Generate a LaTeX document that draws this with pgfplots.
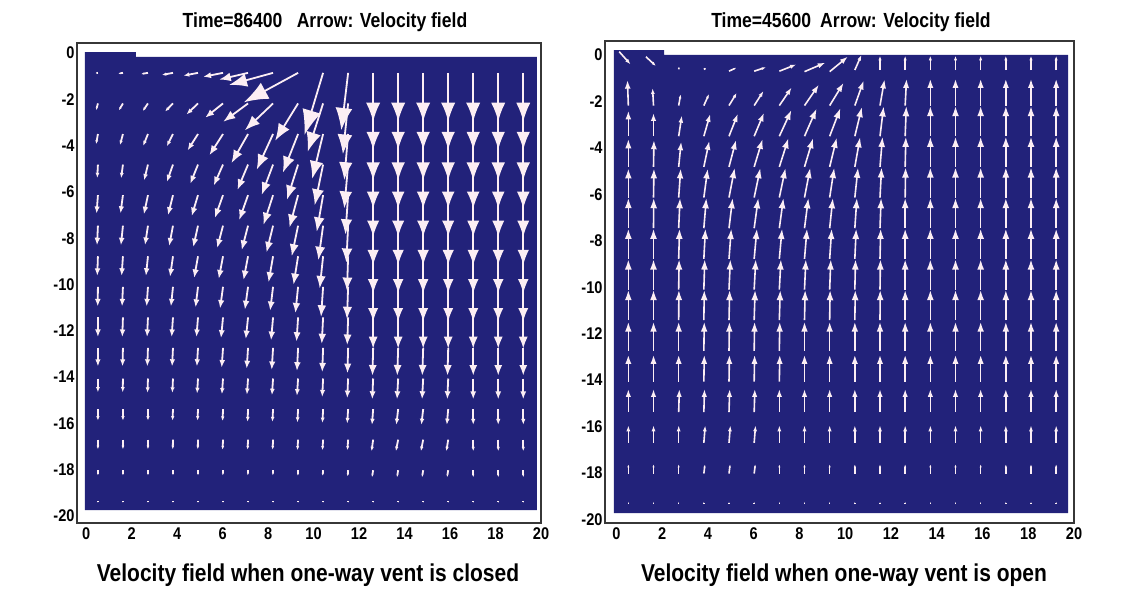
\documentclass[border=0pt]{standalone}
\usepackage{fontspec}
\setmainfont{Liberation Sans}[FakeStretch=0.86]
\usepackage{pgfplots}
\pgfplotsset{compat=1.18}
\usepackage{pgfplotstable}
\usetikzlibrary{arrows.meta}
\definecolor{navy}{RGB}{34,34,122}
\definecolor{arr}{RGB}{252,238,244}
\definecolor{frm}{RGB}{55,55,55}

% Left panel (vent closed): x y u v
\pgfplotstableread[row sep=\\]{
x y u v\\
0.52 -0.86 -0.10 -0.01\\ 1.62 -0.86 -0.20 -0.03\\ 2.72 -0.86 -0.30 -0.05\\ 3.82 -0.86 -0.49 -0.09\\ 4.92 -0.86 -0.64 -0.12\\ 6.02 -0.86 -0.88 -0.17\\ 7.12 -0.86 -1.27 -0.29\\ 8.22 -0.86 -1.93 -0.52\\ 9.32 -0.86 -2.38 -1.27\\ 10.42 -0.86 -0.82 -2.68\\ 11.52 -0.86 -0.30 -2.48\\ 12.62 -0.86 0 -2.10\\ 13.72 -0.86 0 -2.10\\ 14.82 -0.86 0 -2.10\\ 15.92 -0.86 0 -2.10\\ 17.02 -0.86 0 -2.10\\ 18.12 -0.86 0 -2.10\\ 19.22 -0.86 0 -2.10\\
0.52 -2.18 -0.08 -0.29\\ 1.62 -2.18 -0.18 -0.30\\ 2.72 -2.18 -0.23 -0.33\\ 3.82 -2.18 -0.35 -0.35\\ 4.92 -2.18 -0.51 -0.48\\ 6.02 -2.18 -0.79 -0.62\\ 7.12 -2.18 -1.09 -0.79\\ 8.22 -2.18 -1.24 -1.16\\ 9.32 -2.18 -1.01 -1.61\\ 10.42 -2.18 -0.68 -2.09\\ 11.52 -2.18 -0.23 -2.19\\ 12.62 -2.18 0 -2.00\\ 13.72 -2.18 0 -2.00\\ 14.82 -2.18 0 -2.00\\ 15.92 -2.18 0 -2.00\\ 17.02 -2.18 0 -2.00\\ 18.12 -2.18 0 -2.00\\ 19.22 -2.18 0 -2.00\\
0.52 -3.50 -0.08 -0.44\\ 1.62 -3.50 -0.13 -0.48\\ 2.72 -3.50 -0.21 -0.51\\ 3.82 -3.50 -0.27 -0.53\\ 4.92 -3.50 -0.46 -0.71\\ 6.02 -3.50 -0.60 -0.92\\ 7.12 -3.50 -0.73 -1.26\\ 8.22 -3.50 -0.72 -1.54\\ 9.32 -3.50 -0.67 -1.67\\ 10.42 -3.50 -0.48 -1.94\\ 11.52 -3.50 -0.17 -1.99\\ 12.62 -3.50 0 -2.00\\ 13.72 -3.50 0 -2.00\\ 14.82 -3.50 0 -2.00\\ 15.92 -3.50 0 -2.00\\ 17.02 -3.50 0 -2.00\\ 18.12 -3.50 0 -2.00\\ 19.22 -3.50 0 -2.00\\
0.52 -4.82 -0.03 -0.58\\ 1.62 -4.82 -0.08 -0.59\\ 2.72 -4.82 -0.17 -0.68\\ 3.82 -4.82 -0.27 -0.75\\ 4.92 -4.82 -0.34 -0.83\\ 6.02 -4.82 -0.41 -0.91\\ 7.12 -4.82 -0.47 -1.10\\ 8.22 -4.82 -0.50 -1.31\\ 9.32 -4.82 -0.49 -1.52\\ 10.42 -4.82 -0.37 -1.76\\ 11.52 -4.82 -0.17 -1.89\\ 12.62 -4.82 0 -1.90\\ 13.72 -4.82 0 -1.90\\ 14.82 -4.82 0 -1.90\\ 15.92 -4.82 0 -1.90\\ 17.02 -4.82 0 -1.90\\ 18.12 -4.82 0 -1.90\\ 19.22 -4.82 0 -1.90\\
0.52 -6.14 -0.06 -0.80\\ 1.62 -6.14 -0.11 -0.79\\ 2.72 -6.14 -0.18 -0.83\\ 3.82 -6.14 -0.22 -0.87\\ 4.92 -6.14 -0.28 -0.91\\ 6.02 -6.14 -0.36 -0.99\\ 7.12 -6.14 -0.39 -1.08\\ 8.22 -6.14 -0.42 -1.28\\ 9.32 -6.14 -0.38 -1.40\\ 10.42 -6.14 -0.28 -1.58\\ 11.52 -6.14 -0.12 -1.70\\ 12.62 -6.14 0 -1.80\\ 13.72 -6.14 0 -1.80\\ 14.82 -6.14 0 -1.80\\ 15.92 -6.14 0 -1.80\\ 17.02 -6.14 0 -1.80\\ 18.12 -6.14 0 -1.80\\ 19.22 -6.14 0 -1.80\\
0.52 -7.46 -0.04 -0.85\\ 1.62 -7.46 -0.09 -0.85\\ 2.72 -7.46 -0.13 -0.84\\ 3.82 -7.46 -0.17 -0.88\\ 4.92 -7.46 -0.21 -0.93\\ 6.02 -7.46 -0.26 -0.97\\ 7.12 -7.46 -0.28 -1.06\\ 8.22 -7.46 -0.29 -1.16\\ 9.32 -7.46 -0.28 -1.32\\ 10.42 -7.46 -0.21 -1.49\\ 11.52 -7.46 -0.08 -1.60\\ 12.62 -7.46 0 -1.70\\ 13.72 -7.46 0 -1.70\\ 14.82 -7.46 0 -1.70\\ 15.92 -7.46 0 -1.70\\ 17.02 -7.46 0 -1.70\\ 18.12 -7.46 0 -1.70\\ 19.22 -7.46 0 -1.70\\
0.52 -8.78 -0.03 -0.85\\ 1.62 -8.78 -0.06 -0.85\\ 2.72 -8.78 -0.09 -0.85\\ 3.82 -8.78 -0.13 -0.89\\ 4.92 -8.78 -0.17 -0.94\\ 6.02 -8.78 -0.19 -0.98\\ 7.12 -8.78 -0.20 -1.03\\ 8.22 -8.78 -0.20 -1.13\\ 9.32 -8.78 -0.20 -1.23\\ 10.42 -8.78 -0.15 -1.39\\ 11.52 -8.78 -0.05 -1.50\\ 12.62 -8.78 0 -1.60\\ 13.72 -8.78 0 -1.60\\ 14.82 -8.78 0 -1.60\\ 15.92 -8.78 0 -1.60\\ 17.02 -8.78 0 -1.60\\ 18.12 -8.78 0 -1.60\\ 19.22 -8.78 0 -1.60\\
0.52 -10.10 -0.01 -0.85\\ 1.62 -10.10 -0.04 -0.85\\ 2.72 -10.10 -0.06 -0.85\\ 3.82 -10.10 -0.09 -0.85\\ 4.92 -10.10 -0.11 -0.89\\ 6.02 -10.10 -0.13 -0.94\\ 7.12 -10.10 -0.14 -0.99\\ 8.22 -10.10 -0.13 -1.04\\ 9.32 -10.10 -0.12 -1.14\\ 10.42 -10.10 -0.09 -1.30\\ 11.52 -10.10 -0.05 -1.40\\ 12.62 -10.10 0 -1.50\\ 13.72 -10.10 0 -1.50\\ 14.82 -10.10 0 -1.50\\ 15.92 -10.10 0 -1.50\\ 17.02 -10.10 0 -1.50\\ 18.12 -10.10 0 -1.50\\ 19.22 -10.10 0 -1.50\\
0.52 -11.42 0 -0.85\\ 1.62 -11.42 -0.03 -0.85\\ 2.72 -11.42 -0.04 -0.85\\ 3.82 -11.42 -0.06 -0.85\\ 4.92 -11.42 -0.07 -0.85\\ 6.02 -11.42 -0.09 -0.90\\ 7.12 -11.42 -0.10 -0.94\\ 8.22 -11.42 -0.09 -1.00\\ 9.32 -11.42 -0.07 -1.05\\ 10.42 -11.42 -0.06 -1.15\\ 11.52 -11.42 -0.04 -1.20\\ 12.62 -11.42 0 -1.35\\ 13.72 -11.42 0 -1.35\\ 14.82 -11.42 0 -1.35\\ 15.92 -11.42 0 -1.35\\ 17.02 -11.42 0 -1.35\\ 18.12 -11.42 0 -1.35\\ 19.22 -11.42 0 -1.35\\
0.52 -12.74 0 -0.80\\ 1.62 -12.74 -0.02 -0.80\\ 2.72 -12.74 -0.03 -0.80\\ 3.82 -12.74 -0.04 -0.80\\ 4.92 -12.74 -0.05 -0.80\\ 6.02 -12.74 -0.06 -0.85\\ 7.12 -12.74 -0.06 -0.90\\ 8.22 -12.74 -0.06 -0.95\\ 9.32 -12.74 -0.05 -1.00\\ 10.42 -12.74 -0.04 -1.05\\ 11.52 -12.74 -0.03 -1.10\\ 12.62 -12.74 -0.03 -1.20\\ 13.72 -12.74 -0.04 -1.20\\ 14.82 -12.74 -0.04 -1.20\\ 15.92 -12.74 -0.03 -1.20\\ 17.02 -12.74 0 -1.20\\ 18.12 -12.74 0 -1.20\\ 19.22 -12.74 0 -1.20\\
0.52 -14.06 0 -0.60\\ 1.62 -14.06 -0.01 -0.60\\ 2.72 -14.06 -0.02 -0.62\\ 3.82 -14.06 -0.03 -0.62\\ 4.92 -14.06 -0.04 -0.65\\ 6.02 -14.06 -0.05 -0.68\\ 7.12 -14.06 -0.05 -0.70\\ 8.22 -14.06 -0.05 -0.72\\ 9.32 -14.06 -0.05 -0.75\\ 10.42 -14.06 -0.04 -0.80\\ 11.52 -14.06 -0.04 -0.85\\ 12.62 -14.06 -0.04 -0.90\\ 13.72 -14.06 -0.05 -0.90\\ 14.82 -14.06 -0.05 -0.90\\ 15.92 -14.06 -0.04 -0.90\\ 17.02 -14.06 0 -0.90\\ 18.12 -14.06 0 -0.90\\ 19.22 -14.06 0 -0.90\\
0.52 -15.38 0 -0.50\\ 1.62 -15.38 0 -0.50\\ 2.72 -15.38 0 -0.50\\ 3.82 -15.38 -0.02 -0.50\\ 4.92 -15.38 -0.02 -0.50\\ 6.02 -15.38 -0.02 -0.52\\ 7.12 -15.38 -0.02 -0.55\\ 8.22 -15.38 -0.03 -0.55\\ 9.32 -15.38 -0.03 -0.58\\ 10.42 -15.38 -0.03 -0.60\\ 11.52 -15.38 -0.04 -0.62\\ 12.62 -15.38 -0.05 -0.68\\ 13.72 -15.38 -0.08 -0.68\\ 14.82 -15.38 -0.08 -0.68\\ 15.92 -15.38 -0.06 -0.68\\ 17.02 -15.38 0 -0.68\\ 18.12 -15.38 0 -0.68\\ 19.22 -15.38 0 -0.68\\
0.52 -16.70 0 -0.42\\ 1.62 -16.70 0 -0.42\\ 2.72 -16.70 0 -0.42\\ 3.82 -16.70 -0.01 -0.42\\ 4.92 -16.70 -0.01 -0.42\\ 6.02 -16.70 -0.02 -0.44\\ 7.12 -16.70 -0.02 -0.44\\ 8.22 -16.70 -0.02 -0.44\\ 9.32 -16.70 -0.03 -0.46\\ 10.42 -16.70 -0.03 -0.46\\ 11.52 -16.70 -0.03 -0.46\\ 12.62 -16.70 -0.07 -0.50\\ 13.72 -16.70 -0.10 -0.50\\ 14.82 -16.70 -0.10 -0.50\\ 15.92 -16.70 -0.08 -0.50\\ 17.02 -16.70 0 -0.50\\ 18.12 -16.70 0 -0.50\\ 19.22 -16.70 0 -0.50\\
0.52 -18.02 0 -0.22\\ 1.62 -18.02 0 -0.22\\ 2.72 -18.02 0 -0.22\\ 3.82 -18.02 0 -0.22\\ 4.92 -18.02 0 -0.22\\ 6.02 -18.02 -0.01 -0.22\\ 7.12 -18.02 -0.01 -0.22\\ 8.22 -18.02 -0.01 -0.22\\ 9.32 -18.02 -0.01 -0.24\\ 10.42 -18.02 -0.02 -0.24\\ 11.52 -18.02 -0.02 -0.26\\ 12.62 -18.02 -0.05 -0.30\\ 13.72 -18.02 -0.05 -0.30\\ 14.82 -18.02 -0.05 -0.30\\ 15.92 -18.02 -0.05 -0.30\\ 17.02 -18.02 0 -0.30\\ 18.12 -18.02 0 -0.30\\ 19.22 -18.02 0 -0.30\\
0.52 -19.34 0 -0.08\\ 1.62 -19.34 0 -0.08\\ 2.72 -19.34 0 -0.08\\ 3.82 -19.34 0 -0.08\\ 4.92 -19.34 0 -0.08\\ 6.02 -19.34 0 -0.08\\ 7.12 -19.34 0 -0.08\\ 8.22 -19.34 0 -0.08\\ 9.32 -19.34 0 -0.08\\ 10.42 -19.34 0 -0.08\\ 11.52 -19.34 0 -0.08\\ 12.62 -19.34 0 -0.08\\ 13.72 -19.34 0 -0.08\\ 14.82 -19.34 0 -0.08\\ 15.92 -19.34 0 -0.08\\ 17.02 -19.34 0 -0.08\\ 18.12 -19.34 0 -0.08\\ 19.22 -19.34 0 -0.08\\
}\Ldata

% Right panel (vent open): x y u v
\pgfplotstableread[row sep=\\]{
x y u v\\
0.12 0.14 0.50 -0.55\\ 1.29 -0.08 0.44 -0.40\\ 2.72 -0.62 0.02 0.10\\ 3.82 -0.62 0.10 0.05\\ 4.92 -0.70 0.32 0.15\\ 6.02 -0.70 0.52 0.17\\ 7.12 -0.70 0.74 0.29\\ 8.22 -0.72 0.92 0.39\\ 9.32 -0.72 0.80 0.65\\ 10.42 -0.65 0.29 0.65\\ 11.52 -0.65 0 0.62\\ 12.62 -0.65 0 0.62\\ 13.72 -0.65 0 0.62\\ 14.82 -0.65 0 0.62\\ 15.92 -0.65 0 0.62\\ 17.02 -0.65 0 0.62\\ 18.12 -0.65 0 0.62\\ 19.22 -0.65 0 0.62\\
0.52 -2.18 -0.04 1.10\\ 1.62 -2.18 -0.04 0.75\\ 2.72 -2.18 0.09 0.49\\ 3.82 -2.18 0.23 0.50\\ 4.92 -2.18 0.34 0.55\\ 6.02 -2.18 0.41 0.63\\ 7.12 -2.18 0.54 0.78\\ 8.22 -2.18 0.63 0.90\\ 9.32 -2.18 0.61 0.98\\ 10.42 -2.18 0.39 1.08\\ 11.52 -2.18 0.20 1.13\\ 12.62 -2.18 0.06 1.15\\ 13.72 -2.18 0 1.15\\ 14.82 -2.18 0 1.15\\ 15.92 -2.18 0 1.15\\ 17.02 -2.18 0 1.15\\ 18.12 -2.18 0 1.15\\ 19.22 -2.18 0 1.15\\
0.52 -3.50 0 1.10\\ 1.62 -3.50 0 1.00\\ 2.72 -3.50 0.14 0.89\\ 3.82 -3.50 0.28 0.96\\ 4.92 -3.50 0.39 0.97\\ 6.02 -3.50 0.43 1.01\\ 7.12 -3.50 0.53 1.13\\ 8.22 -3.50 0.53 1.19\\ 9.32 -3.50 0.47 1.21\\ 10.42 -3.50 0.31 1.26\\ 11.52 -3.50 0.16 1.29\\ 12.62 -3.50 0.05 1.30\\ 13.72 -3.50 0 1.30\\ 14.82 -3.50 0 1.30\\ 15.92 -3.50 0 1.30\\ 17.02 -3.50 0 1.30\\ 18.12 -3.50 0 1.30\\ 19.22 -3.50 0 1.30\\
0.52 -4.82 0 1.20\\ 1.62 -4.82 0.02 1.15\\ 2.72 -4.82 0.11 1.09\\ 3.82 -4.82 0.24 1.12\\ 4.92 -4.82 0.31 1.16\\ 6.02 -4.82 0.37 1.20\\ 7.12 -4.82 0.40 1.24\\ 8.22 -4.82 0.38 1.24\\ 9.32 -4.82 0.31 1.26\\ 10.42 -4.82 0.23 1.28\\ 11.52 -4.82 0.11 1.30\\ 12.62 -4.82 0.03 1.30\\ 13.72 -4.82 0 1.30\\ 14.82 -4.82 0 1.30\\ 15.92 -4.82 0 1.30\\ 17.02 -4.82 0 1.30\\ 18.12 -4.82 0 1.30\\ 19.22 -4.82 0 1.30\\
0.52 -6.14 0 1.25\\ 1.62 -6.14 0.02 1.25\\ 2.72 -6.14 0.09 1.25\\ 3.82 -6.14 0.17 1.24\\ 4.92 -6.14 0.25 1.28\\ 6.02 -6.14 0.27 1.27\\ 7.12 -6.14 0.27 1.27\\ 8.22 -6.14 0.25 1.28\\ 9.32 -6.14 0.20 1.28\\ 10.42 -6.14 0.14 1.29\\ 11.52 -6.14 0.07 1.30\\ 12.62 -6.14 0.02 1.30\\ 13.72 -6.14 0 1.30\\ 14.82 -6.14 0 1.30\\ 15.92 -6.14 0 1.30\\ 17.02 -6.14 0 1.30\\ 18.12 -6.14 0 1.30\\ 19.22 -6.14 0 1.30\\
0.52 -7.46 0 1.30\\ 1.62 -7.46 0.01 1.30\\ 2.72 -7.46 0.06 1.30\\ 3.82 -7.46 0.11 1.30\\ 4.92 -7.46 0.16 1.30\\ 6.02 -7.46 0.18 1.30\\ 7.12 -7.46 0.18 1.30\\ 8.22 -7.46 0.17 1.30\\ 9.32 -7.46 0.14 1.30\\ 10.42 -7.46 0.09 1.30\\ 11.52 -7.46 0.05 1.30\\ 12.62 -7.46 0 1.30\\ 13.72 -7.46 0 1.30\\ 14.82 -7.46 0 1.30\\ 15.92 -7.46 0 1.30\\ 17.02 -7.46 0 1.30\\ 18.12 -7.46 0 1.30\\ 19.22 -7.46 0 1.30\\
0.52 -8.78 0 1.30\\ 1.62 -8.78 0 1.30\\ 2.72 -8.78 0.04 1.30\\ 3.82 -8.78 0.07 1.30\\ 4.92 -8.78 0.10 1.30\\ 6.02 -8.78 0.12 1.30\\ 7.12 -8.78 0.12 1.30\\ 8.22 -8.78 0.11 1.30\\ 9.32 -8.78 0.09 1.30\\ 10.42 -8.78 0.06 1.30\\ 11.52 -8.78 0.03 1.30\\ 12.62 -8.78 0 1.30\\ 13.72 -8.78 0 1.30\\ 14.82 -8.78 0 1.30\\ 15.92 -8.78 0 1.30\\ 17.02 -8.78 0 1.30\\ 18.12 -8.78 0 1.30\\ 19.22 -8.78 0 1.30\\
0.52 -10.10 0 1.30\\ 1.62 -10.10 0 1.30\\ 2.72 -10.10 0.02 1.30\\ 3.82 -10.10 0.04 1.30\\ 4.92 -10.10 0.06 1.30\\ 6.02 -10.10 0.07 1.30\\ 7.12 -10.10 0.07 1.30\\ 8.22 -10.10 0.06 1.30\\ 9.32 -10.10 0.05 1.30\\ 10.42 -10.10 0.03 1.30\\ 11.52 -10.10 0.02 1.30\\ 12.62 -10.10 0 1.30\\ 13.72 -10.10 0 1.30\\ 14.82 -10.10 0 1.30\\ 15.92 -10.10 0 1.30\\ 17.02 -10.10 0 1.30\\ 18.12 -10.10 0 1.30\\ 19.22 -10.10 0 1.30\\
0.52 -11.42 0 1.30\\ 1.62 -11.42 0 1.30\\ 2.72 -11.42 0.01 1.30\\ 3.82 -11.42 0.02 1.30\\ 4.92 -11.42 0.03 1.30\\ 6.02 -11.42 0.04 1.30\\ 7.12 -11.42 0.04 1.30\\ 8.22 -11.42 0.03 1.30\\ 9.32 -11.42 0.02 1.30\\ 10.42 -11.42 0.02 1.30\\ 11.52 -11.42 0.01 1.30\\ 12.62 -11.42 0 1.30\\ 13.72 -11.42 0 1.30\\ 14.82 -11.42 0 1.30\\ 15.92 -11.42 0 1.30\\ 17.02 -11.42 0 1.30\\ 18.12 -11.42 0 1.30\\ 19.22 -11.42 0 1.30\\
0.52 -12.74 0 1.25\\ 1.62 -12.74 0 1.25\\ 2.72 -12.74 0 1.25\\ 3.82 -12.74 0.02 1.25\\ 4.92 -12.74 0.02 1.25\\ 6.02 -12.74 0.02 1.25\\ 7.12 -12.74 0.02 1.25\\ 8.22 -12.74 0 1.25\\ 9.32 -12.74 0 1.25\\ 10.42 -12.74 0 1.25\\ 11.52 -12.74 0 1.25\\ 12.62 -12.74 0 1.25\\ 13.72 -12.74 0 1.25\\ 14.82 -12.74 0 1.25\\ 15.92 -12.74 0 1.25\\ 17.02 -12.74 0 1.25\\ 18.12 -12.74 0 1.25\\ 19.22 -12.74 0 1.25\\
0.52 -14.06 0 1.15\\ 1.62 -14.06 0 1.15\\ 2.72 -14.06 0 1.15\\ 3.82 -14.06 0.02 1.15\\ 4.92 -14.06 0.02 1.15\\ 6.02 -14.06 0.02 1.15\\ 7.12 -14.06 0.02 1.15\\ 8.22 -14.06 0 1.15\\ 9.32 -14.06 0 1.15\\ 10.42 -14.06 0 1.15\\ 11.52 -14.06 0 1.15\\ 12.62 -14.06 0 1.15\\ 13.72 -14.06 0 1.15\\ 14.82 -14.06 0 1.15\\ 15.92 -14.06 0 1.15\\ 17.02 -14.06 0 1.15\\ 18.12 -14.06 0 1.15\\ 19.22 -14.06 0 1.15\\
0.52 -15.38 0 1.00\\ 1.62 -15.38 0 1.00\\ 2.72 -15.38 0.03 1.00\\ 3.82 -15.38 0.03 1.00\\ 4.92 -15.38 0.03 1.00\\ 6.02 -15.38 0.03 1.00\\ 7.12 -15.38 0 1.00\\ 8.22 -15.38 0 1.00\\ 9.32 -15.38 0 1.00\\ 10.42 -15.38 0 1.00\\ 11.52 -15.38 0 1.00\\ 12.62 -15.38 0 1.00\\ 13.72 -15.38 0 1.00\\ 14.82 -15.38 0 1.00\\ 15.92 -15.38 0 1.00\\ 17.02 -15.38 0 1.00\\ 18.12 -15.38 0 1.00\\ 19.22 -15.38 0 1.00\\
0.52 -16.70 0 0.75\\ 1.62 -16.70 0 0.75\\ 2.72 -16.70 0 0.75\\ 3.82 -16.70 0.06 0.75\\ 4.92 -16.70 0.06 0.75\\ 6.02 -16.70 0.06 0.75\\ 7.12 -16.70 0 0.75\\ 8.22 -16.70 0 0.75\\ 9.32 -16.70 0 0.75\\ 10.42 -16.70 0 0.75\\ 11.52 -16.70 0 0.75\\ 12.62 -16.70 0 0.75\\ 13.72 -16.70 0 0.75\\ 14.82 -16.70 0 0.75\\ 15.92 -16.70 0 0.75\\ 17.02 -16.70 0 0.75\\ 18.12 -16.70 0 0.75\\ 19.22 -16.70 0 0.75\\
0.52 -18.02 0 0.40\\ 1.62 -18.02 0 0.40\\ 2.72 -18.02 0 0.40\\ 3.82 -18.02 0.05 0.40\\ 4.92 -18.02 0.05 0.40\\ 6.02 -18.02 0.05 0.40\\ 7.12 -18.02 0 0.40\\ 8.22 -18.02 0 0.40\\ 9.32 -18.02 0 0.40\\ 10.42 -18.02 0 0.40\\ 11.52 -18.02 0 0.40\\ 12.62 -18.02 0 0.40\\ 13.72 -18.02 0 0.40\\ 14.82 -18.02 0 0.40\\ 15.92 -18.02 0 0.40\\ 17.02 -18.02 0 0.40\\ 18.12 -18.02 0 0.40\\ 19.22 -18.02 0 0.40\\
0.52 -19.34 0 0.10\\ 1.62 -19.34 0 0.10\\ 2.72 -19.34 0 0.10\\ 3.82 -19.34 0 0.10\\ 4.92 -19.34 0 0.10\\ 6.02 -19.34 0 0.10\\ 7.12 -19.34 0 0.10\\ 8.22 -19.34 0 0.10\\ 9.32 -19.34 0 0.10\\ 10.42 -19.34 0 0.10\\ 11.52 -19.34 0 0.10\\ 12.62 -19.34 0 0.10\\ 13.72 -19.34 0 0.10\\ 14.82 -19.34 0 0.10\\ 15.92 -19.34 0 0.10\\ 17.02 -19.34 0 0.10\\ 18.12 -19.34 0 0.10\\ 19.22 -19.34 0 0.10\\
}\Rdata

\pgfplotsset{
  panel/.style={
    scale only axis,
    anchor=south west,
    xtick={0,2,...,20}, ytick={-20,-18,...,0},
    major tick length=0pt,
    tick label style={font=\fontsize{17}{17}\selectfont\bfseries, text=black},
    /pgf/number format/assume math mode=true,
    axis line style={draw=frm, line width=1.1bp},
    xticklabel style={yshift=-1bp},
    yticklabel style={xshift=1bp},
  },
}

\begin{document}
\begin{tikzpicture}
\path[use as bounding box] (0,0) rectangle (1138bp,591bp);

% ---------- left panel ----------
\begin{axis}[panel, at={(77bp,68bp)}, width=464bp, height=480bp,
  xmin=-0.4, xmax=20, ymin=-20.3, ymax=0.43]
\addplot[fill=navy, draw=none] coordinates
  {(-0.05,-19.74) (19.82,-19.74) (19.82,-0.17) (2.19,-0.17) (2.19,0.04) (-0.05,0.04)} -- cycle;
\addplot[draw=arr, line width=1.8bp, point meta min=0, point meta max=2.8,
  point meta={sqrt((\thisrow{u})^2+(\thisrow{v})^2)},
  quiver={u=\thisrow{u}, v=\thisrow{v},
    every arrow/.append style={-{Latex[length=12.5bp,width=9.5bp,
      scale length={max(0.05,\pgfplotspointmetatransformed/500)},
      scale width={max(0.05,\pgfplotspointmetatransformed/500)}]}}}]
  table[x=x, y=y] {\Ldata};
\end{axis}

% ---------- right panel ----------
\begin{axis}[panel, at={(605bp,68bp)}, width=469bp, height=482bp,
  xmin=-0.5, xmax=20, ymin=-20.15, ymax=0.6]
\addplot[fill=navy, draw=none] coordinates
  {(-0.11,-19.73) (19.74,-19.73) (19.74,0.0) (2.08,0.0) (2.08,0.21) (-0.11,0.21)} -- cycle;
\addplot[draw=arr, line width=1.6bp, point meta min=0, point meta max=2.8,
  point meta={sqrt((\thisrow{u})^2+(\thisrow{v})^2)},
  quiver={u=\thisrow{u}, v=\thisrow{v},
    every arrow/.append style={-{Latex[length=11bp,width=7.5bp,
      scale length={max(0.05,\pgfplotspointmetatransformed/500)},
      scale width={max(0.05,\pgfplotspointmetatransformed/500)}]}}}]
  table[x=x, y=y] {\Rdata};
\end{axis}

% ---------- titles and captions ----------
\node[font=\fontsize{20.5}{20.5}\selectfont\bfseries] at (325bp,569bp)
  {Time=86400\hspace{0.7em}Arrow: Velocity field};
\node[font=\fontsize{20.5}{20.5}\selectfont\bfseries] at (851bp,569bp)
  {Time=45600\hspace{0.45em}Arrow: Velocity field};
\node[font=\fontsize{24.5}{24.5}\selectfont\bfseries] at (308bp,16bp)
  {Velocity field when one-way vent is closed};
\node[font=\fontsize{24.5}{24.5}\selectfont\bfseries] at (844bp,16bp)
  {Velocity field when one-way vent is open};
\end{tikzpicture}
\end{document}
